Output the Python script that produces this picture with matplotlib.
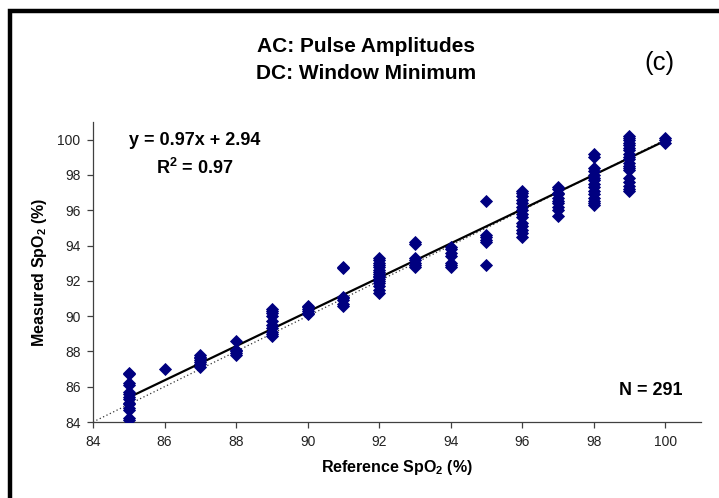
import matplotlib
matplotlib.use("Agg")
import matplotlib.pyplot as plt
from matplotlib.patches import Rectangle
import numpy as np

plt.rcParams['font.family'] = ['Liberation Sans', 'DejaVu Sans']
plt.rcParams['mathtext.fontset'] = 'custom'
plt.rcParams['mathtext.rm'] = 'Liberation Sans'
plt.rcParams['mathtext.bf'] = 'Liberation Sans:bold'

# measured SpO2, grouped by reference SpO2
ref_85 = [84.1, 84.2, 84.7, 84.8, 85.0, 85.1, 85.3, 85.4, 85.6, 85.7, 86.1, 86.2, 86.7, 86.8]
ref_86 = [87.0]
ref_87 = [87.1, 87.3, 87.4, 87.5, 87.6, 87.7, 87.8]
ref_88 = [87.8, 87.9, 88.0, 88.1, 88.6]
ref_89 = [88.9, 89.0, 89.1, 89.3, 89.5, 89.7, 90.0, 90.2, 90.3, 90.4]
ref_90 = [90.1, 90.2, 90.3, 90.4, 90.5, 90.6]
ref_91 = [90.6, 90.7, 90.9, 91.0, 91.1, 92.7, 92.8]
ref_92 = [91.3, 91.5, 91.7, 91.9, 92.0, 92.1, 92.2, 92.3, 92.4, 92.5, 92.6, 92.8, 92.9, 93.0, 93.2, 93.3]
ref_93 = [92.8, 92.9, 93.0, 93.2, 93.3, 94.1, 94.2]
ref_94 = [92.8, 92.9, 93.0, 93.4, 93.6, 93.8, 93.9]
ref_95 = [92.9, 94.2, 94.3, 94.5, 94.6, 96.5]
ref_96 = [94.5, 94.7, 94.9, 95.1, 95.3, 95.6, 95.8, 96.0, 96.2, 96.4, 96.6, 96.8, 97.0, 97.1]
ref_97 = [95.7, 96.0, 96.2, 96.4, 96.5, 96.7, 96.9, 97.0, 97.2, 97.3]
ref_98 = [96.3, 96.4, 96.5, 96.7, 96.9, 97.1, 97.3, 97.5, 97.7, 97.8, 98.0, 98.2, 98.4, 99.0, 99.2]
ref_99 = [97.1, 97.2, 97.4, 97.6, 97.8, 98.3, 98.4, 98.5, 98.7, 98.9, 99.0, 99.2, 99.4,
          99.5, 99.7, 99.8, 100.0, 100.1, 100.2]
ref_100 = [99.8, 100.0, 100.1]

groups = {85: ref_85, 86: ref_86, 87: ref_87, 88: ref_88, 89: ref_89, 90: ref_90,
          91: ref_91, 92: ref_92, 93: ref_93, 94: ref_94, 95: ref_95, 96: ref_96,
          97: ref_97, 98: ref_98, 99: ref_99, 100: ref_100}

slope = 0.97
intercept = 2.94
r_squared = 0.97
n_points = 291

xs = np.concatenate([[k] * len(v) for k, v in groups.items()])
ys = np.concatenate([v for v in groups.values()])

fig = plt.figure(figsize=(7.19, 4.98), dpi=100)
ax = fig.add_axes([0.1293, 0.1526, 0.8457, 0.6024])

# identity line and regression line
ax.plot([84, 100], [84, 100], linestyle=(0, (1, 2)), color='#333333', linewidth=0.9)
fit_x = np.array([85, 100])
ax.plot(fit_x, slope * fit_x + intercept, color='black', linewidth=1.6)

ax.plot(xs, ys, linestyle='none', marker='D', markersize=6.4,
        markerfacecolor='#000080', markeredgecolor='#000080', markeredgewidth=0.6, zorder=3)

ax.set_xlim(84, 101)
ax.set_ylim(84, 101)
ax.set_xticks(range(84, 101, 2))
ax.set_yticks(range(84, 101, 2))
ax.spines['top'].set_visible(False)
ax.spines['right'].set_visible(False)
for s in ('left', 'bottom'):
    ax.spines[s].set_color('#404040')
    ax.spines[s].set_linewidth(0.9)
ax.tick_params(direction='out', length=4, width=0.9, color='#404040',
               labelsize=10, labelcolor='#222222', pad=5)

ax.set_xlabel(r'Reference SpO$_\mathbf{2}$ (%)', fontsize=11.5, fontweight='bold', labelpad=7)
ax.set_ylabel(r'Measured SpO$_\mathbf{2}$ (%)', fontsize=11.5, fontweight='bold', labelpad=6)

fig.text(0.509, 0.906, 'AC: Pulse Amplitudes', ha='center', va='center',
         fontsize=15, fontweight='bold')
fig.text(0.509, 0.852, 'DC: Window Minimum', ha='center', va='center',
         fontsize=15, fontweight='bold')
fig.text(0.917, 0.874, '(c)', ha='center', va='center', fontsize=18.5)

fig.text(0.271, 0.717, f'y = {slope:.2f}x + {intercept:.2f}', ha='center', va='center',
         fontsize=13, fontweight='bold')
fig.text(0.271, 0.662, f'R$^\\mathbf{{2}}$ = {r_squared:.2f}', ha='center', va='center',
         fontsize=13, fontweight='bold')
fig.text(0.949, 0.216, f'N = {n_points}', ha='right', va='center',
         fontsize=13, fontweight='bold')

# thick frame around the figure (only left and top edges visible)
fig.patches.append(Rectangle((0.0139, -0.1), 1.2, 1.077, transform=fig.transFigure,
                             fill=False, edgecolor='black', linewidth=3.2))

fig.savefig('out.png', dpi=100)
